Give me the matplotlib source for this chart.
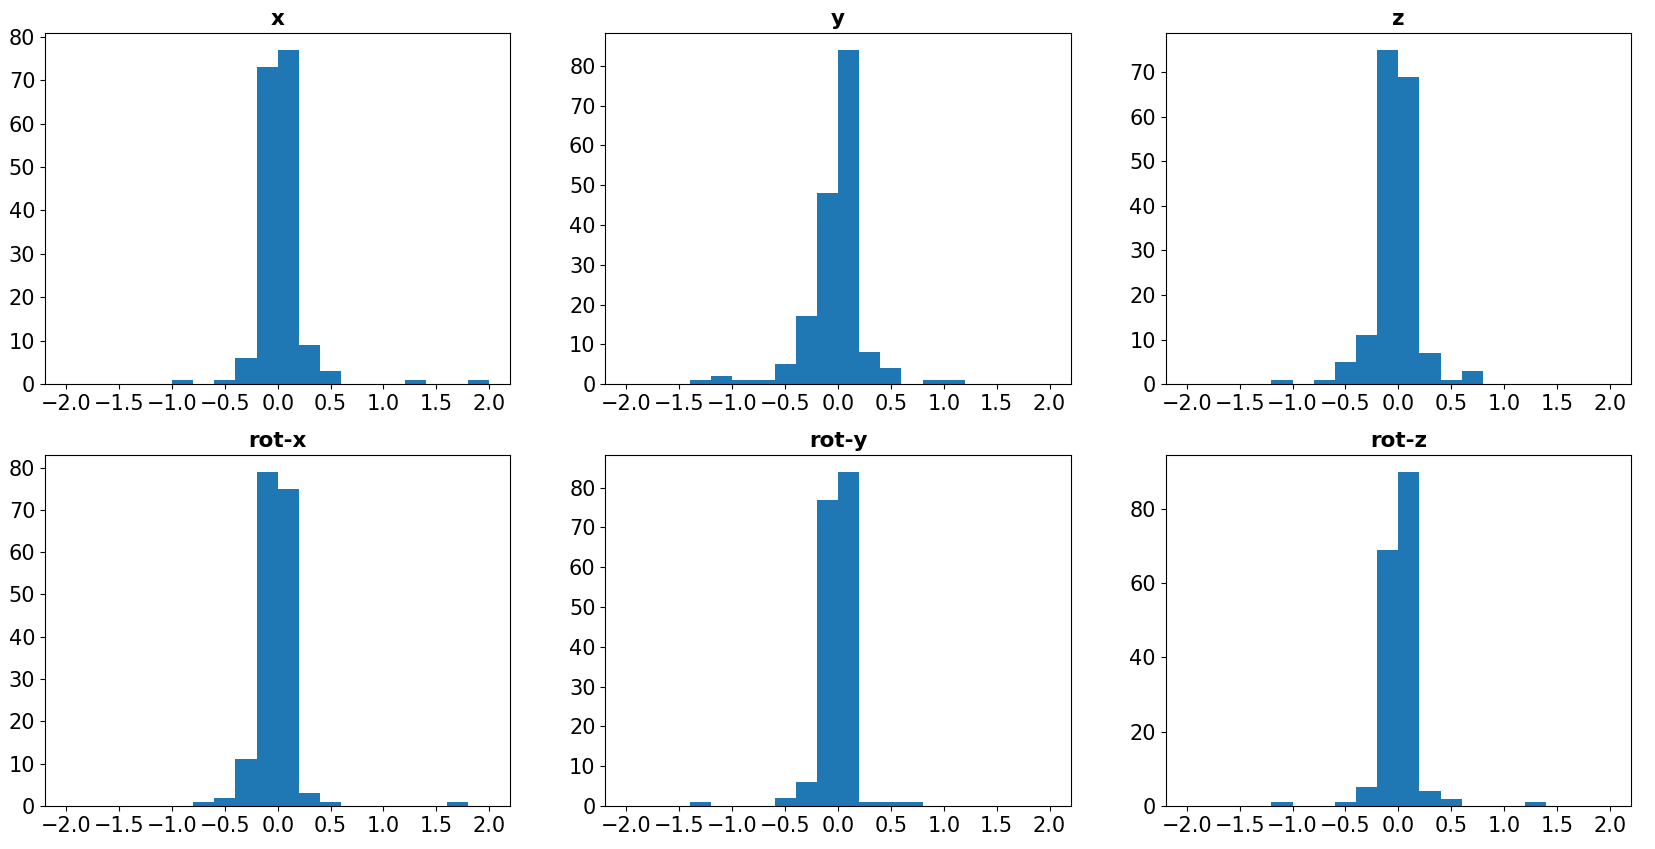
from matplotlib import pyplot as plt
from matplotlib.ticker import MultipleLocator
import numpy as np

# 20 bins of width 0.2 between -2 and 2
bin_edges = [-2.0, -1.8, -1.6, -1.4, -1.2, -1.0, -0.8, -0.6, -0.4, -0.2, 0.0,
             0.2, 0.4, 0.6, 0.8, 1.0, 1.2, 1.4, 1.6, 1.8, 2.0]

titles = ["x", "y", "z", "rot-x", "rot-y", "rot-z"]

counts_x = [0, 0, 0, 0, 0, 1, 0, 1, 6, 73, 77, 9, 3, 0, 0, 0, 1, 0, 0, 1]
counts_y = [0, 0, 0, 1, 2, 1, 1, 5, 17, 48, 84, 8, 4, 0, 1, 1, 0, 0, 0, 0]
counts_z = [0, 0, 0, 0, 1, 0, 1, 5, 11, 75, 69, 7, 1, 3, 0, 0, 0, 0, 0, 0]
counts_rotx = [0, 0, 0, 0, 0, 0, 1, 2, 11, 79, 75, 3, 1, 0, 0, 0, 0, 0, 1, 0]
counts_roty = [0, 0, 0, 1, 0, 0, 0, 2, 6, 77, 84, 1, 1, 1, 0, 0, 0, 0, 0, 0]
counts_rotz = [0, 0, 0, 0, 1, 0, 0, 1, 5, 69, 90, 4, 2, 0, 0, 0, 1, 0, 0, 0]

all_counts = [counts_x, counts_y, counts_z, counts_rotx, counts_roty, counts_rotz]
ytick_steps = [10, 10, 10, 10, 10, 20]

fig, axes = plt.subplots(nrows=2, ncols=3, figsize=(16.55, 8.49), dpi=100)
plt.subplots_adjust(left=0.0272, right=0.9855, bottom=0.0506, top=0.961,
                    wspace=0.204, hspace=0.202)

edges = np.array(bin_edges)
for ax, title, counts, step in zip(axes.flat, titles, all_counts, ytick_steps):
    ax.hist(edges[:-1], bins=edges, weights=counts, color="#1f77b4")
    ax.set_title(title, fontsize=15.5, fontweight="bold")
    ax.set_xticks([-2.0, -1.5, -1.0, -0.5, 0.0, 0.5, 1.0, 1.5, 2.0])
    ax.yaxis.set_major_locator(MultipleLocator(step))
    ax.tick_params(labelsize=15)

plt.savefig("out.png")
